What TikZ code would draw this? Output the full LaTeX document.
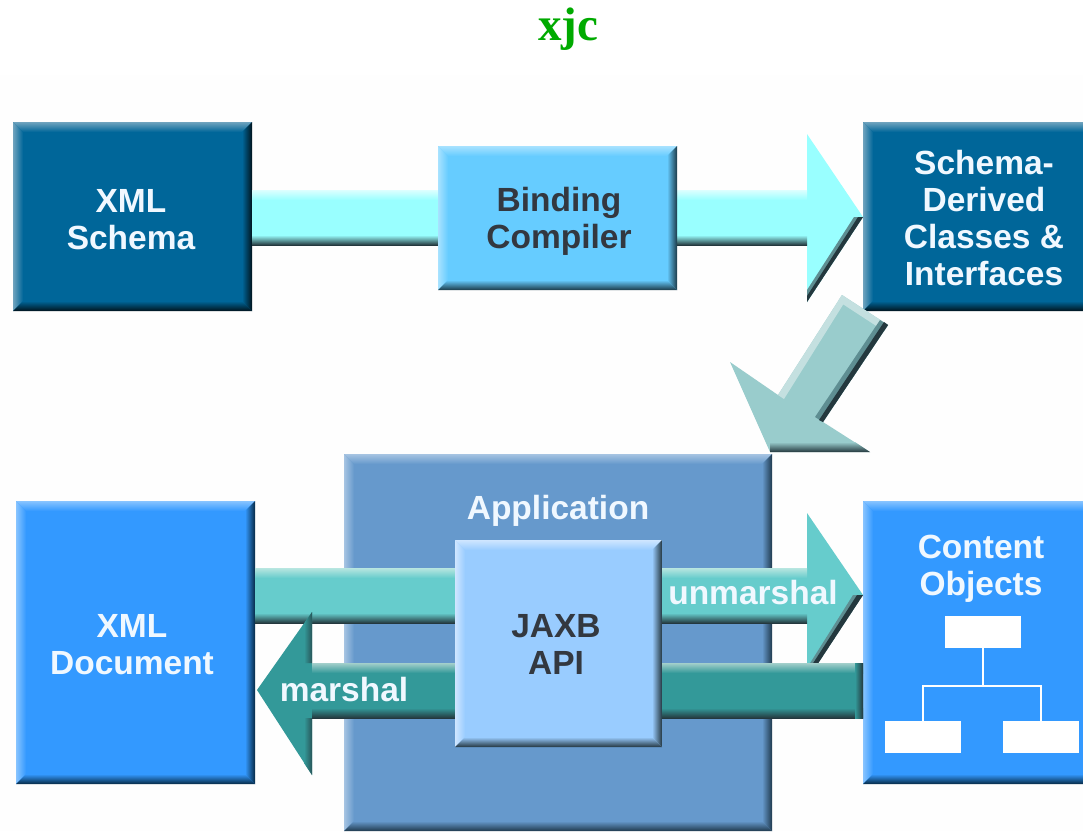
\documentclass[tikz,border=0pt]{standalone}
\usepackage{fontspec}
\setmainfont{Liberation Sans}
\newfontfamily\titlefont{Liberation Serif}
\definecolor{cSchema}{HTML}{006699}
\definecolor{cSchemaL}{HTML}{6FA3BE}
\definecolor{cSchemaD}{HTML}{01141D}
\definecolor{cBind}{HTML}{66CCFF}
\definecolor{cBindL}{HTML}{A8E2FF}
\definecolor{cBindD}{HTML}{1B3A48}
\definecolor{cBlue}{HTML}{3399FF}
\definecolor{cBlueL}{HTML}{88C4FF}
\definecolor{cBlueD}{HTML}{062A45}
\definecolor{cApp}{HTML}{6699CC}
\definecolor{cAppL}{HTML}{A6C4E2}
\definecolor{cAppD}{HTML}{203A4E}
\definecolor{cApi}{HTML}{99CCFF}
\definecolor{cApiL}{HTML}{CFE6FF}
\definecolor{cApiD}{HTML}{23363F}
\definecolor{cCyan}{HTML}{99FFFF}
\definecolor{cCyanL}{HTML}{DDFFFF}
\definecolor{cDiag}{HTML}{99CCCC}
\definecolor{cDiagL}{HTML}{C4E0E0}
\definecolor{cTeal}{HTML}{66CCCC}
\definecolor{cTealL}{HTML}{B8E6E0}
\definecolor{cSea}{HTML}{339999}
\definecolor{cSeaL}{HTML}{A3CFCB}
\definecolor{cEdge}{HTML}{24383E}
\definecolor{cMid}{HTML}{5E8E92}
\definecolor{cGreen}{HTML}{00AA00}
\definecolor{cInk}{HTML}{333840}
\definecolor{cPale}{HTML}{F0F8FF}
\definecolor{cPaper}{HTML}{FEFEFE}
\newcommand{\bevelbox}[8]{%
  \pgfmathsetmacro\xa{#2}\pgfmathsetmacro\ya{#3}%
  \pgfmathsetmacro\xb{#2+#4}\pgfmathsetmacro\yb{#3+#5}%
  \pgfmathsetmacro\xc{#2+10}\pgfmathsetmacro\yc{#3+10}%
  \pgfmathsetmacro\xd{#2+#4-10}\pgfmathsetmacro\yd{#3+#5-10}%
  \node[boxbody,fill=#6,minimum width=#4pt,minimum height=#5pt] (#1) at (#2,#3) {};
  \shade[left color=#7,right color=#6] (\xa,\ya) -- (\xc,\yc) -- (\xc,\yd) -- (\xa,\yb) -- cycle;
  \shade[top color=#7,bottom color=#6] (\xa,\ya) -- (\xb,\ya) -- (\xd,\yc) -- (\xc,\yc) -- cycle;
  \shade[left color=#6,middle color=#8,right color=#8] (\xb,\ya) -- (\xb,\yb) -- (\xd,\yd) -- (\xd,\yc) -- cycle;
  \shade[top color=#6,middle color=#8,bottom color=#8] (\xa,\yb) -- (\xb,\yb) -- (\xd,\yd) -- (\xc,\yd) -- cycle;
}
\tikzset{
  boxbody/.style={anchor=north west,inner sep=0pt,outer sep=0pt,draw=none},
  lighttext/.style={text=cPale,font=\fontsize{33.5}{37}\selectfont\bfseries,align=center,inner sep=0pt},
  inktext/.style={text=cInk,font=\fontsize{33.5}{37}\selectfont\bfseries,align=center,inner sep=0pt},
  treebox/.style={fill=white,inner sep=0pt,outer sep=0pt,minimum width=76pt,minimum height=32pt},
  treeline/.style={draw=white,line width=1.6pt}
}
\begin{document}
\begin{tikzpicture}[x=1pt,y=-1pt]
\useasboundingbox (0,0) rectangle (1083,831);
\clip (0,0) rectangle (1083,831);
\fill[white] (0,0) rectangle (1083,831);
\fill[cPaper] (0,75) rectangle (1083,831);
\node[text=cGreen,font=\titlefont\fontsize{47}{50}\selectfont\bfseries,inner sep=0pt] (title) at (568,29) {xjc};

% outer boxes
\bevelbox{xs}{13}{122}{239}{189}{cSchema}{cSchemaL}{cSchemaD}
\bevelbox{sd}{863}{122}{240}{189}{cSchema}{cSchemaL}{cSchemaD}
\bevelbox{xd}{16}{501}{239}{283}{cBlue}{cBlueL}{cBlueD}
\bevelbox{co}{863}{501}{240}{283}{cBlue}{cBlueL}{cBlueD}
\bevelbox{app}{344}{454}{428}{377}{cApp}{cAppL}{cAppD}

% cyan arrow: XML Schema to Schema-Derived
\coordinate (cs1) at (xs.east |- 0,190);
\coordinate (cs2) at (xs.east |- 0,245);
\coordinate (ctip) at (sd.west |- 0,217);
\fill[cCyan] (cs1) -- (807,190) -- (807,134) -- (ctip) -- (807,302) -- (807,245) -- (cs2) -- cycle;
\shade[top color=cCyanL,bottom color=cCyan] (cs1) rectangle (807,200);
\shade[top color=cCyan,middle color=cEdge,bottom color=cEdge] (cs2) ++(0,-10) rectangle (807,245);
\fill[cMid] (ctip) -- (807,302) -- (807,290) -- (854,217) -- cycle;
\fill[cEdge] (ctip) -- (807,302) -- (807,296) -- (858,217) -- cycle;

% diagonal arrow: Schema-Derived to Application
\fill[cDiag] (842,295) -- (888,325) -- (823,422) -- (870,452) -- (770,452) -- (730,362) -- (778,395) -- cycle;
\fill[cDiagL] (842,295) -- (778,395) -- (784,399) -- (846,300) -- cycle;
\fill[cDiagL] (842,295) -- (888,325) -- (884,331) -- (838,301) -- cycle;
\fill[cMid] (888,325) -- (823,422) -- (815,417) -- (880,320) -- cycle;
\fill[cEdge] (888,325) -- (823,422) -- (819,420) -- (884,322) -- cycle;
\shade[top color=cDiag,middle color=cEdge,bottom color=cEdge] (770,442) -- (855,442) -- (870,452) -- (770,452) -- cycle;

% unmarshal arrow: XML Document to Content Objects
\coordinate (us1) at (xd.east |- 0,568);
\coordinate (us2) at (xd.east |- 0,623);
\coordinate (utip) at (co.west |- 0,595);
\fill[cTeal] (us1) -- (807,568) -- (807,513) -- (utip) -- (807,668) -- (807,623) -- (us2) -- cycle;
\shade[top color=cTealL,bottom color=cTeal] (us1) rectangle (807,578);
\shade[top color=cTeal,middle color=cEdge,bottom color=cEdge] (us2) ++(0,-10) rectangle (807,623);
\fill[cMid] (utip) -- (815,668) -- (807,668) -- (853,595) -- cycle;
\fill[cEdge] (utip) -- (815,668) -- (810,668) -- (857,595) -- cycle;

% marshal arrow: Content Objects to XML Document
\coordinate (ms1) at (co.west |- 0,663);
\coordinate (ms2) at (co.west |- 0,718);
\coordinate[xshift=2pt] (mtip) at (xd.east |- 0,690);
\fill[cSea] (ms1) -- (312,663) -- (312,612) -- (mtip) -- (312,775) -- (312,718) -- (ms2) -- cycle;
\shade[top color=cSeaL,bottom color=cSea] (ms1) rectangle (312,673);
\shade[top color=cSea,middle color=cEdge,bottom color=cEdge] (ms2) ++(0,-10) rectangle (312,718);
\shade[left color=cSea,right color=cEdge] (ms1) ++(-8,0) rectangle (ms2);
\shade[left color=cSea,right color=cEdge!70!cSea] (304,624) -- (312,612) -- (312,663) -- (304,663) -- cycle;
\shade[left color=cSea,right color=cEdge!70!cSea] (304,718) -- (312,718) -- (312,775) -- (304,763) -- cycle;

% inner boxes
\bevelbox{bc}{438}{146}{239}{144}{cBind}{cBindL}{cBindD}
\bevelbox{api}{455}{540}{207}{207}{cApi}{cApiL}{cApiD}

% texts
\node[lighttext] (xsT) at (131,220) {XML\\Schema};
\node[lighttext] (sdT) at (984,218.5) {Schema-\\Derived\\Classes \&\\Interfaces};
\node[inktext] (bcT) at (559,221) {Binding\\Compiler};
\node[lighttext] (xdT) at (132,645) {XML\\Document};
\node[lighttext] (appT) at (558,511) {Application};
\node[inktext] (apiT) at (556,644) {JAXB\\API};
\node[lighttext] (coT) at (981,569) {Content\\Objects};
\node[lighttext] (uT) at (753,593) {unmarshal};
\node[lighttext] (mT) at (344,690) {marshal};

% small tree
\node[treebox] (tTop) at (983,632) {};
\node[treebox] (tL) at (923,737) {};
\node[treebox] (tR) at (1041,737) {};
\draw[treeline] (tTop.south) -- ++(0,38) coordinate (tJ);
\draw[treeline] (tL.north) |- (tJ) -| (tR.north);
\end{tikzpicture}
\end{document}
